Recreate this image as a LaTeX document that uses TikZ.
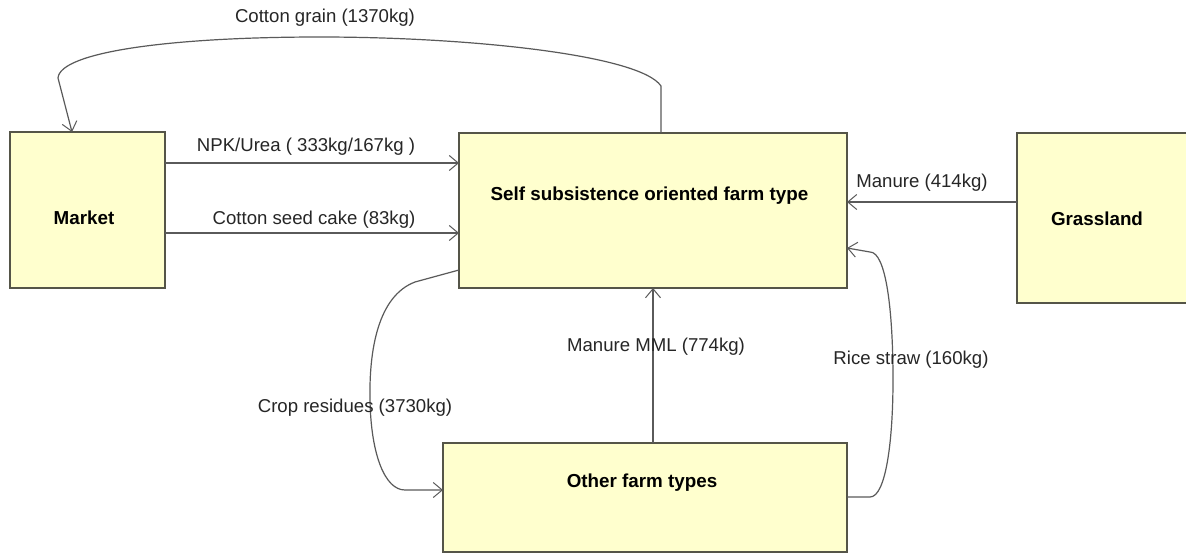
\documentclass[tikz,border=0pt]{standalone}
\usepackage{fontspec}
\setmainfont{Liberation Sans}
\usetikzlibrary{arrows.meta,calc}
\definecolor{boxfill}{RGB}{255,255,206}
\definecolor{boxline}{RGB}{85,85,72}
\definecolor{flowline}{RGB}{90,90,90}
\begin{document}
\begin{tikzpicture}[x=1pt,y=-1pt,
  box/.style={draw=boxline,fill=boxfill,line width=1.4pt,inner sep=0pt,outer sep=0pt,rectangle},
  boxtext/.style={font=\fontsize{18.8}{21}\selectfont\bfseries,text=black,inner sep=0pt},
  flowtext/.style={font=\fontsize{18.6}{21}\selectfont,text=black!85,inner sep=0pt},
  flow/.style={draw=flowline,line width=1.2pt,-{Straight Barb[length=9pt,width=15pt,line width=1pt]}}]
\useasboundingbox (0,0) rectangle (1186,554);
\clip (0,0) rectangle (1186,554);
\fill[white] (0,0) rectangle (1186,554);

% boxes
\node[box,minimum width=155pt,minimum height=156pt] (market) at (87.5,210) {};
\node[box,minimum width=388pt,minimum height=155pt] (self) at (653,210.5) {};
\node[box,minimum width=240pt,minimum height=170pt] (grass) at (1137,218) {};
\node[box,minimum width=404pt,minimum height=109pt] (other) at (645,497.5) {};

\node[boxtext] (tmarket) at (84,218) {Market};
\node[boxtext] (tself) at (649.5,196) {Self subsistence oriented farm type};
\node[boxtext] (tgrass) at (1097,219) {Grassland};
\node[boxtext] (tother) at (642,483) {Other farm types};

% straight flows
\draw[flow] (market.east |- 0,163) -- (self.west |- 0,163);
\draw[flow] (market.east |- 0,233) -- (self.west |- 0,233);
\draw[flow] (grass.west |- 0,202) -- (self.east |- 0,202);
\draw[flow] (self.south |- other.north) -- (self.south);

% curved flows
\coordinate (cgA) at (661,86);
\coordinate (cgB) at (58,78);
\draw[flow] (self.north -| 661,0) -- (cgA)
  .. controls (640,55) and (470,37) .. (320,37)
  .. controls (170,37) and (60,52) .. (cgB) -- (market.north -| 72,0);

\coordinate (crA) at (415,282);
\coordinate (crB) at (405,490);
\draw[flow] (self.west |- 0,270) -- (crA)
  .. controls (378,296) and (369,350) .. (370,400)
  .. controls (371,455) and (385,490) .. (crB) -- (other.west |- 0,490);

\coordinate (rsA) at (870,497);
\coordinate (rsB) at (870,252);
\draw[flow] (other.east |- 0,497) -- (rsA)
  .. controls (886,497) and (893,440) .. (893,380)
  .. controls (893,310) and (886,252) .. (rsB) -- (self.east |- 0,248);

% flow labels
\node[flowtext] (lgrain) at (325,18) {Cotton grain (1370kg)};
\node[flowtext] (lnpk) at (306,147) {NPK/Urea ( 333kg/167kg )};
\node[flowtext] (lcake) at (314,220) {Cotton seed cake (83kg)};
\node[flowtext] (lmanure) at (922,183) {Manure (414kg)};
\node[flowtext] (lmml) at (656,347) {Manure MML (774kg)};
\node[flowtext] (lcrop) at (355,408) {Crop residues (3730kg)};
\node[flowtext] (lrice) at (911,360) {Rice straw (160kg)};
\end{tikzpicture}
\end{document}
